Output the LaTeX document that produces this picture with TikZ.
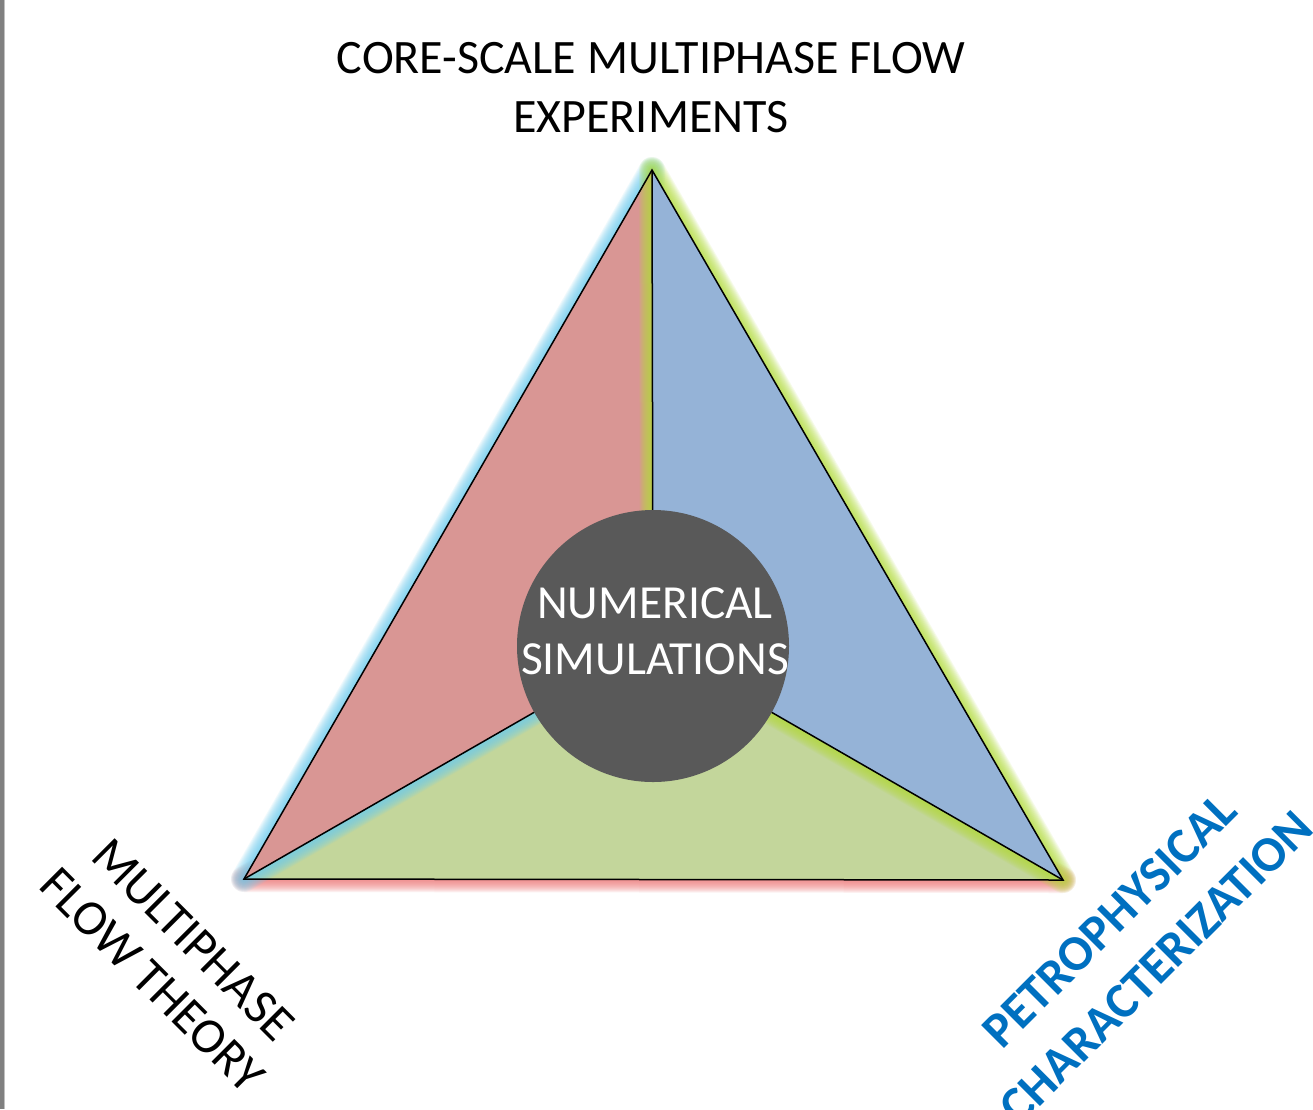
\documentclass[tikz,border=0pt]{standalone}
\usepackage{fontspec}
\setmainfont{Carlito}
\definecolor{redfill}{RGB}{217,150,148}
\definecolor{bluefill}{RGB}{149,179,215}
\definecolor{greenfill}{RGB}{195,214,155}
\definecolor{simgray}{RGB}{89,89,89}
\definecolor{glowcyan}{RGB}{110,205,240}
\definecolor{glowlime}{RGB}{180,222,60}
\definecolor{glowpink}{RGB}{240,120,120}
\definecolor{petroblue}{RGB}{0,112,192}
\definecolor{edgegray}{RGB}{128,128,128}
\tikzset{
  glow/.style={line width=#1, opacity=0.11, line join=round},
  edge/.style={draw=black, line width=1.5pt, line join=miter},
  biglabel/.style={font=\fontsize{48}{59}\selectfont, align=center, inner sep=0pt},
  simcircle/.style={circle, fill=simgray, minimum size=272pt, inner sep=0pt},
  simtext/.style={text=white, align=center, inner sep=0pt, font=\fontsize{47.5}{56}\selectfont}
}
\begin{document}
\begin{tikzpicture}[x=1pt,y=-1pt]
\useasboundingbox (0,0) rectangle (1313,1109);
\fill[white] (0,0) rectangle (1313,1109);
\fill[edgegray] (0,0) rectangle (4,1109);
\fill[edgegray!50] (4,0) rectangle (5,1109);

\coordinate (A) at (652,170);
\coordinate (B) at (244,879);
\coordinate (C) at (1063,880);
\coordinate (O) at (653,644);

% green triangle with pink glow
\foreach \w in {2,4,...,26} \draw[glowpink, glow=\w pt] (B) -- (C) -- (O) -- cycle;
\fill[greenfill] (B) -- (C) -- (O) -- cycle;
% red triangle with cyan glow
\foreach \w in {2,4,...,26} \draw[glowcyan, glow=\w pt] (A) -- (B) -- (O) -- cycle;
\fill[redfill] (A) -- (B) -- (O) -- cycle;
% blue triangle with lime glow
\foreach \w in {2,4,...,26} \draw[glowlime, glow=\w pt] (A) -- (C) -- (O) -- cycle;
\fill[bluefill] (A) -- (C) -- (O) -- cycle;

% outlines
\draw[edge] (A) -- (B) -- (C) -- cycle;
\draw[edge] (A) -- (O);
\draw[edge] (B) -- (O);
\draw[edge] (C) -- (O);

\node[simcircle] (sim) at (653,646) {};
\node[simtext, anchor=base] (simlabel) at (655,674) {NUMERICAL\\SIMULATIONS};

\node[biglabel, anchor=base] (core) at (651,132) {CORE-SCALE MULTIPHASE FLOW\\EXPERIMENTS};

\node[biglabel, rotate=-45, font=\fontsize{50}{58}\selectfont] (mft) at (173,960) {MULTIPHASE\\FLOW THEORY};

\node[biglabel, rotate=45, text=petroblue, font=\fontsize{50}{66}\selectfont\bfseries] (pc) at (1133,944) {PETROPHYSICAL\\CHARACTERIZATION};
\end{tikzpicture}
\end{document}
